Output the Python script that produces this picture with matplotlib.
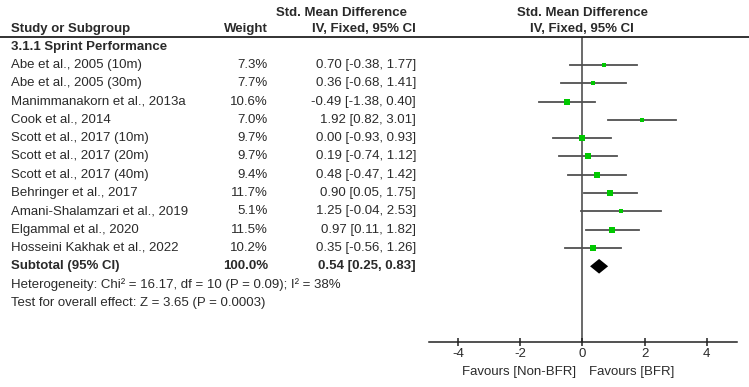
import matplotlib
matplotlib.use('Agg')
import matplotlib.pyplot as plt
from matplotlib.transforms import blended_transform_factory
from matplotlib.lines import Line2D

plt.rcParams['font.family'] = ['Liberation Sans', 'DejaVu Sans']

studies = ['Abe et al., 2005 (10m)', 'Abe et al., 2005 (30m)',
           'Manimmanakorn et al., 2013a', 'Cook et al., 2014',
           'Scott et al., 2017 (10m)', 'Scott et al., 2017 (20m)',
           'Scott et al., 2017 (40m)', 'Behringer et al., 2017',
           'Amani-Shalamzari et al., 2019', 'Elgammal et al., 2020',
           'Hosseini Kakhak et al., 2022']
weights = [7.3, 7.7, 10.6, 7.0, 9.7, 9.7, 9.4, 11.7, 5.1, 11.5, 10.2]
smd = [0.70, 0.36, -0.49, 1.92, 0.00, 0.19, 0.48, 0.90, 1.25, 0.97, 0.35]
ci_low = [-0.38, -0.68, -1.38, 0.82, -0.93, -0.74, -0.47, 0.05, -0.04, 0.11, -0.56]
ci_high = [1.77, 1.41, 0.40, 3.01, 0.93, 1.12, 1.42, 1.75, 2.53, 1.82, 1.26]
subtotal = (100.0, 0.54, 0.25, 0.83)
heterogeneity = 'Heterogeneity: Chi\u00b2 = 16.17, df = 10 (P = 0.09); I\u00b2 = 38%'
overall = 'Test for overall effect: Z = 3.65 (P = 0.0003)'
xticks = [-4, -2, 0, 2, 4]

W, H = 749, 387
TXT = '#2a2a2a'
LINE = '#505050'
FS = 9.5

fig = plt.figure(figsize=(W / 100, H / 100), dpi=100)

# forest axes: x in SMD units, y in row units (row 0 = first study)
ax_left, ax_right = 426.8, 737.8
ax_top, ax_bot = 37.3, 341.7
ax = fig.add_axes([ax_left / W, (H - ax_bot) / H,
                   (ax_right - ax_left) / W, (ax_bot - ax_top) / H])
ax.set_xlim(-5, 5)
ax.set_ylim(15.12, -1.51)
ax.patch.set_alpha(0)
for s in ('top', 'left', 'right'):
    ax.spines[s].set_visible(False)
ax.spines['bottom'].set_bounds(-4.93, 4.97)
ax.spines['bottom'].set_color('#222222')
ax.spines['bottom'].set_linewidth(1.1)
ax.set_yticks([])
ax.set_xticks(xticks)
ax.set_xticklabels([str(t) for t in xticks])
ax.tick_params(axis='x', direction='inout', length=6, width=1.1, colors='#222222',
               labelsize=FS, labelcolor=TXT, pad=1.5)

ax.axvline(0, color=LINE, lw=1.2, zorder=1)

for i in range(len(studies)):
    ax.plot([ci_low[i], ci_high[i]], [i, i], color=LINE, lw=1.3, zorder=2)
    ax.plot(smd[i], i, marker='s', color='#00c800', markeredgewidth=0,
            markersize=weights[i] ** 0.5 * 1.25, zorder=3)

row_sub = len(studies)
w_sub, m_sub, l_sub, h_sub = subtotal
hh = 0.4
ax.fill([l_sub, m_sub, h_sub, m_sub], [row_sub, row_sub - hh, row_sub, row_sub + hh],
        color='black', lw=0, zorder=3)

# table text: x in figure pixels, y in row units
tr = blended_transform_factory(fig.transFigure, ax.transData)


def put(x, row, s, ha='left', bold=False):
    fig.text(x / W, row, s, transform=tr, ha=ha, va='center', fontsize=FS,
             color=TXT, fontweight='bold' if bold else 'normal')


x_name, x_wt, x_ci = 11, 268, 416
put(276, -2.86, 'Std. Mean Difference', bold=True)
put(x_name, -1.94, 'Study or Subgroup', bold=True)
put(x_wt, -1.94, 'Weight', ha='right', bold=True)
put(x_ci, -1.94, 'IV, Fixed, 95% CI', ha='right', bold=True)
put(582.3, -2.86, 'Std. Mean Difference', ha='center', bold=True)
put(582.3, -1.94, 'IV, Fixed, 95% CI', ha='center', bold=True)

fig.add_artist(Line2D([0, 1], [-1.51, -1.51], transform=tr, color='#222222', lw=1.3))

put(x_name, -1, '3.1.1 Sprint Performance', bold=True)
for i, name in enumerate(studies):
    put(x_name, i, name)
    put(x_wt, i, f'{weights[i]:.1f}%', ha='right')
    put(x_ci, i, f'{smd[i]:.2f} [{ci_low[i]:.2f}, {ci_high[i]:.2f}]', ha='right')
put(x_name, row_sub, 'Subtotal (95% CI)', bold=True)
put(x_wt, row_sub, f'{w_sub:.1f}%', ha='right', bold=True)
put(x_ci, row_sub, f'{m_sub:.2f} [{l_sub:.2f}, {h_sub:.2f}]', ha='right', bold=True)
put(x_name, row_sub + 1, heterogeneity)
put(x_name, row_sub + 2, overall)

ax.text(-0.2, 16.78, 'Favours [Non-BFR]', ha='right', va='center', fontsize=FS, color=TXT,
        clip_on=False)
ax.text(0.2, 16.78, 'Favours [BFR]', ha='left', va='center', fontsize=FS, color=TXT,
        clip_on=False)

fig.savefig('out.png', dpi=100)
